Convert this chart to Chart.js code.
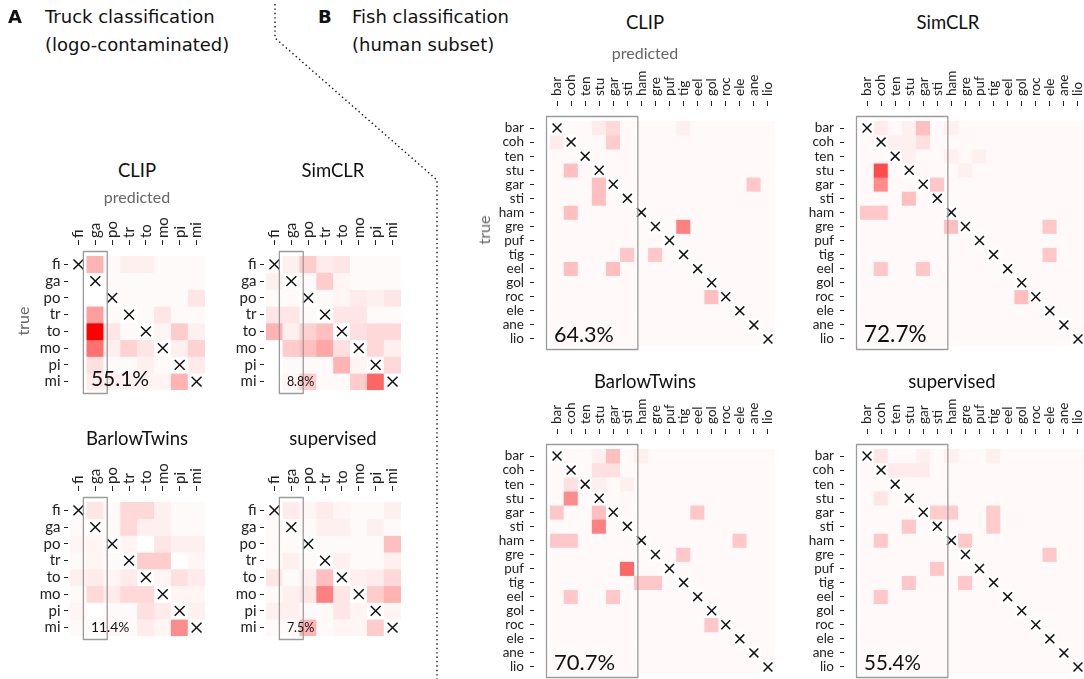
<!DOCTYPE html>
<html><head><meta charset="utf-8">
<script src="https://cdn.jsdelivr.net/npm/chart.js@4.4.1/dist/chart.umd.min.js"></script>
<style>
html,body{margin:0;padding:0;width:1084px;height:679px;overflow:hidden;background:#fff;}
#root{position:relative;width:1084px;height:679px;overflow:hidden;}
canvas{position:absolute;}
.c{position:absolute;white-space:nowrap;font-family:Lato,sans-serif;color:#111;transform:translate(-50%,-50%);line-height:1;}
.h{position:absolute;white-space:nowrap;font-family:"DejaVu Sans",sans-serif;font-size:18px;color:#111;line-height:1;}
</style></head>
<body><div id="root"></div>
<script>
// ---------------- data ----------------
const modelNames = ['CLIP', 'SimCLR', 'BarlowTwins', 'supervised'];
const truckClasses = ['fi', 'ga', 'po', 'tr', 'to', 'mo', 'pi', 'mi'];
const fishClasses = ['bar', 'coh', 'ten', 'stu', 'gar', 'sti', 'ham', 'gre', 'puf', 'tig', 'eel', 'gol', 'roc', 'ele', 'ane', 'lio'];
const truckHighlight = ['ga'];
const fishHighlight = ['bar', 'coh', 'ten', 'stu', 'gar', 'sti'];
const truckAccuracy = [55.1, 8.8, 11.4, 7.5];
const fishAccuracy = [64.3, 72.7, 70.7, 55.4];

// truck confusion (rows = true, columns = predicted), relative intensity
const truckCLIP = [
  [0, 0.30, 0.02, 0.06, 0.06, 0.02, 0.02, 0.02],
  [0, 0, 0.02, 0.02, 0.02, 0.02, 0.02, 0.02],
  [0, 0, 0, 0.02, 0.02, 0.02, 0.02, 0.10],
  [0, 0.38, 0.02, 0, 0.02, 0.10, 0.02, 0.02],
  [0, 1.00, 0.10, 0.02, 0, 0.04, 0.20, 0.06],
  [0, 0.56, 0.06, 0.18, 0.10, 0, 0.06, 0.18],
  [0, 0.12, 0.02, 0.02, 0.06, 0.02, 0, 0.08],
  [0, 0.08, 0.06, 0.06, 0.04, 0.04, 0.30, 0]
];
const truckSimCLR = [
  [0, 0.06, 0.20, 0.08, 0.10, 0.02, 0.02, 0.02],
  [0.06, 0, 0.02, 0.20, 0.04, 0.02, 0.02, 0.02],
  [0.02, 0.02, 0, 0.02, 0.04, 0.08, 0.06, 0.10],
  [0.10, 0.10, 0.02, 0, 0.10, 0.10, 0.02, 0.02],
  [0.30, 0.06, 0.18, 0.25, 0, 0.12, 0.15, 0.15],
  [0, 0.20, 0.25, 0.35, 0.12, 0, 0.15, 0.06],
  [0, 0.02, 0.02, 0.02, 0.30, 0.04, 0, 0.15],
  [0, 0.04, 0.20, 0.02, 0.02, 0.20, 0.60, 0]
];
const truckBarlowTwins = [
  [0, 0.10, 0.02, 0.15, 0.15, 0.06, 0.02, 0.02],
  [0.02, 0, 0.02, 0.15, 0.06, 0.06, 0.02, 0.02],
  [0.04, 0.04, 0, 0.04, 0, 0.10, 0.06, 0.06],
  [0.02, 0.04, 0.02, 0, 0.20, 0.20, 0, 0.04],
  [0.06, 0.08, 0.04, 0.08, 0, 0.04, 0.12, 0.08],
  [0.02, 0.15, 0.08, 0.15, 0.15, 0, 0.04, 0.04],
  [0.04, 0, 0.02, 0.02, 0.12, 0.08, 0, 0.06],
  [0.02, 0.02, 0.04, 0.02, 0.08, 0.04, 0.45, 0]
];
const truckSupervised = [
  [0, 0.08, 0.04, 0.08, 0.04, 0.02, 0.02, 0.06],
  [0.02, 0, 0.02, 0.06, 0.06, 0.02, 0.06, 0.02],
  [0.02, 0.02, 0, 0.02, 0.02, 0.02, 0.02, 0.25],
  [0.02, 0.06, 0.02, 0, 0.06, 0.02, 0.02, 0.06],
  [0.10, 0.02, 0.06, 0.25, 0, 0.06, 0.08, 0.15],
  [0.02, 0.06, 0.10, 0.50, 0.10, 0, 0.20, 0.30],
  [0.06, 0.06, 0.02, 0.02, 0.10, 0.04, 0, 0.04],
  [0.02, 0.02, 0.30, 0.02, 0.04, 0.04, 0.20, 0]
];

// fish confusion: faint base everywhere off-diagonal, plus these [true, predicted, intensity] cells
const fishBase = 0.025;
const fishCLIP = [
  ['bar', 'stu', 0.08], ['bar', 'gar', 0.15], ['bar', 'tig', 0.06],
  ['coh', 'bar', 0.08], ['coh', 'gar', 0.20],
  ['stu', 'coh', 0.25],
  ['gar', 'stu', 0.25], ['gar', 'ane', 0.22],
  ['sti', 'stu', 0.25],
  ['ham', 'coh', 0.25],
  ['gre', 'tig', 0.50],
  ['tig', 'sti', 0.22], ['tig', 'gre', 0.22],
  ['eel', 'coh', 0.25], ['eel', 'gar', 0.25],
  ['roc', 'gol', 0.25]
];
const fishSimCLR = [
  ['bar', 'coh', 0.08], ['bar', 'stu', 0.06], ['bar', 'gar', 0.25], ['bar', 'ham', 0.06],
  ['coh', 'ten', 0.06], ['coh', 'stu', 0.06], ['coh', 'gar', 0.12],
  ['ten', 'stu', 0.06], ['ten', 'ham', 0.06], ['ten', 'puf', 0.06],
  ['stu', 'coh', 0.70], ['stu', 'gre', 0.06],
  ['gar', 'coh', 0.45], ['gar', 'sti', 0.22],
  ['sti', 'stu', 0.25],
  ['ham', 'bar', 0.22], ['ham', 'coh', 0.22],
  ['gre', 'ham', 0.25], ['gre', 'ele', 0.22],
  ['tig', 'ele', 0.22],
  ['eel', 'coh', 0.22], ['eel', 'gar', 0.22],
  ['roc', 'gol', 0.25]
];
const fishBarlowTwins = [
  ['bar', 'stu', 0.06], ['bar', 'gar', 0.25], ['bar', 'ham', 0.06],
  ['coh', 'stu', 0.12], ['coh', 'gar', 0.12],
  ['ten', 'coh', 0.12], ['ten', 'stu', 0.06], ['ten', 'sti', 0.06],
  ['stu', 'coh', 0.45],
  ['gar', 'bar', 0.22], ['gar', 'stu', 0.25], ['gar', 'eel', 0.22],
  ['sti', 'stu', 0.50],
  ['ham', 'bar', 0.22], ['ham', 'coh', 0.22], ['ham', 'ele', 0.22],
  ['gre', 'tig', 0.22],
  ['puf', 'sti', 0.60],
  ['tig', 'ham', 0.22], ['tig', 'gre', 0.22],
  ['eel', 'coh', 0.22], ['eel', 'gar', 0.22],
  ['roc', 'gol', 0.22]
];
const fishSupervised = [
  ['bar', 'coh', 0.10], ['bar', 'gar', 0.06], ['bar', 'ham', 0.06], ['bar', 'tig', 0.06],
  ['coh', 'ten', 0.08], ['coh', 'stu', 0.08], ['coh', 'gar', 0.08],
  ['stu', 'coh', 0.10],
  ['gar', 'sti', 0.20], ['gar', 'ham', 0.20], ['gar', 'tig', 0.20],
  ['sti', 'stu', 0.22], ['sti', 'tig', 0.20],
  ['ham', 'coh', 0.22], ['ham', 'gre', 0.22],
  ['gre', 'ele', 0.22],
  ['puf', 'sti', 0.22],
  ['tig', 'stu', 0.22], ['tig', 'gre', 0.22],
  ['eel', 'coh', 0.22]
];

// ---------------- helpers ----------------
function fishMatrix(cells) {
  const m = fishClasses.map((r, i) => fishClasses.map((c, j) => (i === j ? 0 : fishBase)));
  cells.forEach(([t, p, v]) => { m[fishClasses.indexOf(t)][fishClasses.indexOf(p)] = v; });
  return m;
}
function cellColor(v) {
  if (v <= 0) return '#ffffff';
  const g = Math.round(255 * (1 - v));
  return 'rgb(255,' + g + ',' + g + ')';
}

const highlightPlugin = {
  id: 'highlight',
  afterDraw(chart, args, o) {
    const xs = chart.scales.x, ca = chart.chartArea, ctx = chart.ctx;
    const half = (xs.getPixelForValue(1) - xs.getPixelForValue(0)) / 2;
    const left = xs.getPixelForValue(o.first) - half - o.pad;
    const right = xs.getPixelForValue(o.last) + half + o.pad;
    const top = ca.top - o.padTop, bottom = ca.bottom + o.pad;
    ctx.save();
    ctx.strokeStyle = '#9b9b9b';
    ctx.lineWidth = 1.3;
    ctx.lineJoin = 'round';
    ctx.strokeRect(left, top, right - left, bottom - top);
    ctx.fillStyle = '#111';
    ctx.font = o.fontSize + 'px Lato, sans-serif';
    ctx.textBaseline = 'alphabetic';
    ctx.textAlign = 'left';
    ctx.fillText(o.text, left + 7.5, ca.bottom - 4);
    ctx.restore();
  }
};

const root = document.getElementById('root');

function addText(cls, txt, x, y, style) {
  const d = document.createElement('div');
  d.className = cls;
  d.textContent = txt;
  d.style.left = x + 'px';
  d.style.top = y + 'px';
  Object.assign(d.style, style || {});
  root.appendChild(d);
}

function buildMatrix(classes, matrix, highlight, accText, g) {
  const n = classes.length;
  const cv = document.createElement('canvas');
  const W = g.YW + g.gw + g.padR, H = g.XH + g.gh + g.padB;
  cv.width = W; cv.height = H;
  cv.style.left = (g.gx - g.YW) + 'px';
  cv.style.top = (g.gy - g.XH) + 'px';
  cv.style.width = W + 'px'; cv.style.height = H + 'px';
  root.appendChild(cv);

  const datasets = matrix.map((row, i) => ({
    type: 'bar',
    order: 1,
    data: row.map(() => [i, i + 1]),
    backgroundColor: row.map(cellColor),
    borderWidth: 0,
    grouped: false,
    barPercentage: 1,
    categoryPercentage: 1
  }));
  datasets.push({
    type: 'scatter',
    order: 0,
    data: classes.map((c, i) => ({ x: c, y: i + 0.5 })),
    pointStyle: 'crossRot',
    pointRadius: g.cross,
    pointBorderColor: '#111',
    pointBackgroundColor: 'rgba(0,0,0,0)',
    pointBorderWidth: 1.5,
    stack: 'marks',
    clip: false
  });

  const tickFont = { family: 'Lato, sans-serif', size: g.fs };
  new Chart(cv, {
    type: 'bar',
    data: { labels: classes, datasets },
    plugins: [highlightPlugin],
    options: {
      responsive: false,
      animation: false,
      devicePixelRatio: 1,
      events: [],
      layout: { padding: { left: 0, top: 0, right: g.padR, bottom: g.padB } },
      plugins: {
        legend: { display: false },
        tooltip: { enabled: false },
        highlight: {
          first: classes.indexOf(highlight[0]),
          last: classes.indexOf(highlight[highlight.length - 1]),
          pad: 3.5, padTop: 4.5,
          text: accText, fontSize: g.accFs
        }
      },
      scales: {
        x: {
          type: 'category', position: 'top', offset: true,
          border: { display: false },
          grid: { display: true, offset: false, drawOnChartArea: false, drawTicks: true,
                  tickLength: g.xTL, tickColor: '#222', tickWidth: 1, tickBorderDash: [g.xDash, 200] },
          ticks: { autoSkip: false, minRotation: 90, maxRotation: 90, padding: g.xPad,
                   color: '#222', font: tickFont, labelOffset: g.fs * 1.2 },
          afterFit(s) { s.height = g.XH; }
        },
        y: {
          type: 'linear', reverse: true, min: 0, max: n,
          border: { display: false },
          grid: { display: true, drawOnChartArea: false, drawTicks: true,
                  tickLength: g.yTL, tickColor: '#222', tickWidth: 1, tickBorderDash: [4, 200] },
          afterBuildTicks(s) { s.ticks = classes.map((c, i) => ({ value: i + 0.5 })); },
          ticks: { autoSkip: false, padding: g.yPad, color: '#222', font: tickFont,
                   callback: (v, i) => classes[i] },
          afterFit(s) { s.width = g.YW; }
        }
      }
    }
  });
}

// ---------------- layout ----------------
const truckGeom = { YW: 60, XH: 60, gw: 135, gh: 134, padR: 10, padB: 16, fs: 15,
  xTL: 16, xDash: 5, xPad: 2, yTL: 6, yPad: 3.5, cross: 7 };
const fishGeom = { YW: 60, XH: 60, gw: 225, gh: 225, padR: 10, padB: 16, fs: 13.5,
  xTL: 20, xDash: 5, xPad: 5, yTL: 20, yPad: 6, cross: 6.3 };

const truckPos = [[70, 256], [266, 256], [70, 502], [266, 502]];
const fishPos = [[550, 121], [860, 121], [550, 449], [860, 449]];
const truckAccFont = [21, 12.5, 13.8, 12.5];
const fishAccFont = [21.5, 22.5, 22, 20.5];
const truckTitlePos = [[137, 170], [333, 170], [137, 438], [333, 438]];
const fishTitlePos = [[645, 22], [948, 22], [645, 381], [952, 381]];

const truckData = [truckCLIP, truckSimCLR, truckBarlowTwins, truckSupervised];
const fishData = [fishCLIP, fishSimCLR, fishBarlowTwins, fishSupervised].map(fishMatrix);

// separator (dotted)
const svgNS = 'http://www.w3.org/2000/svg';
const svg = document.createElementNS(svgNS, 'svg');
svg.setAttribute('width', 1084); svg.setAttribute('height', 679);
svg.style.position = 'absolute'; svg.style.left = '0'; svg.style.top = '0';
const pl = document.createElementNS(svgNS, 'polyline');
pl.setAttribute('points', '275,4 275,38 437,180 437,679');
pl.setAttribute('fill', 'none'); pl.setAttribute('stroke', '#111');
pl.setAttribute('stroke-width', '1.4'); pl.setAttribute('stroke-dasharray', '1.4 3');
svg.appendChild(pl);
root.appendChild(svg);

truckData.forEach((m, k) => {
  buildMatrix(truckClasses, m, truckHighlight, truckAccuracy[k].toFixed(1) + '%',
    Object.assign({}, truckGeom, { gx: truckPos[k][0], gy: truckPos[k][1], accFs: truckAccFont[k] }));
  addText('c', modelNames[k], truckTitlePos[k][0], truckTitlePos[k][1], { fontSize: '18.5px' });
});
fishData.forEach((m, k) => {
  buildMatrix(fishClasses, m, fishHighlight, fishAccuracy[k].toFixed(1) + '%',
    Object.assign({}, fishGeom, { gx: fishPos[k][0], gy: fishPos[k][1], accFs: fishAccFont[k] }));
  addText('c', modelNames[k], fishTitlePos[k][0], fishTitlePos[k][1], { fontSize: '18.5px' });
});

// axis titles
addText('c', 'predicted', 137, 197, { fontSize: '16px', color: '#666' });
addText('c', 'predicted', 645, 53, { fontSize: '16px', color: '#666' });
addText('c', 'true', 23, 321, { fontSize: '16px', color: '#666', transform: 'translate(-50%,-50%) rotate(-90deg)' });
addText('c', 'true', 484, 230, { fontSize: '16px', color: '#666', transform: 'translate(-50%,-50%) rotate(-90deg)' });

// panel headers
addText('h', 'A', 8, 8, { fontWeight: 'bold' });
addText('h', 'Truck classification', 45, 8);
addText('h', '(logo-contaminated)', 45, 36);
addText('h', 'B', 318, 8, { fontWeight: 'bold' });
addText('h', 'Fish classification', 352, 8);
addText('h', '(human subset)', 352, 36);
</script>
</body></html>
